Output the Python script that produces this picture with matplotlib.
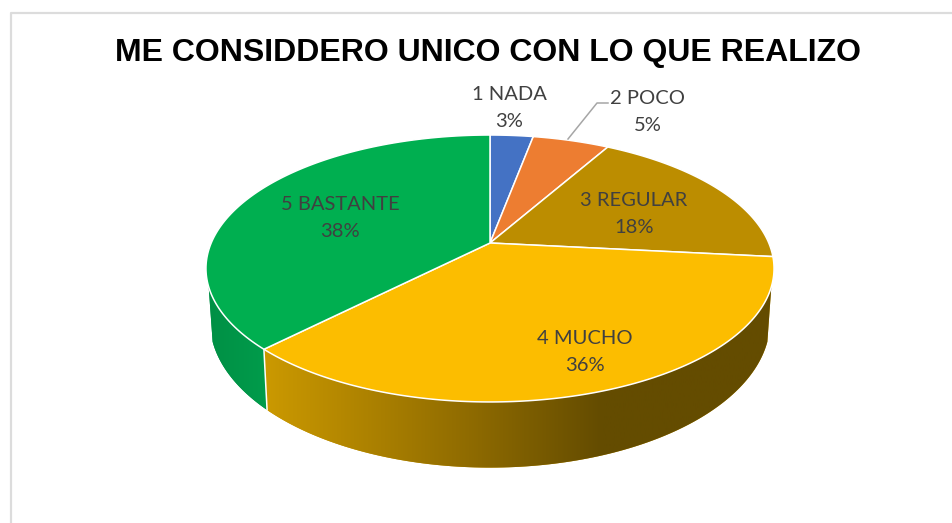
import numpy as np
import matplotlib
matplotlib.use('Agg')
import matplotlib.pyplot as plt
from matplotlib.colors import LinearSegmentedColormap

# datos
categorias = ['1 NADA', '2 POCO', '3 REGULAR', '4 MUCHO', '5 BASTANTE']
valores = [2.95, 5.25, 18.45, 35.7, 37.65]
colores = ['#4472C4', '#ED7D31', '#BC8D00', '#FCBD00', '#00AF50']
titulo = 'ME CONSIDDERO UNICO CON LO QUE REALIZO'

# posicion de las etiquetas en pixeles
pos_etiquetas = [(509, 108), (648, 112), (634, 214), (585, 352), (340, 218)]

# pie en perspectiva, el centro queda por encima del centro de la elipse
CX, CY = 490, 243
RADIO_X, RADIO_Y, K = 278.8, 128.6, 0.191
# cara inferior
CY_BASE, ESC_X, ESC_Y = 293.7, 0.986, 1.094
# donde empieza y termina la pared visible (grados desde arriba)
PARED_INI, PARED_FIN = 108.7, 251.3


def proyectar(grados, base=False):
    t = np.radians(grados)
    u, v = np.sin(t), np.cos(t)
    x = RADIO_X * u / (1 + K * v)
    y = RADIO_Y * v / (1 + K * v)
    if base:
        return CX + ESC_X * x, CY_BASE - ESC_Y * y
    return CX + x, CY - y


def pared(ax, ini, fin, cols, x0, x1):
    th = np.linspace(ini, fin, 120)
    xa, ya = proyectar(th)
    xb, yb = proyectar(th, base=True)
    xs = np.concatenate([xa, xb[::-1]])
    ys = np.concatenate([ya, yb[::-1]])
    poli = ax.fill(xs, ys, color=cols[0][1], lw=0)[0]
    cmap = LinearSegmentedColormap.from_list('p', cols)
    img = ax.imshow(np.linspace(0, 1, 256)[None, :], extent=[x0, x1, 523, 0], cmap=cmap,
                    aspect='auto', zorder=1.5)
    img.set_clip_path(poli)
    return xa, ya, xb, yb


fig = plt.figure(figsize=(9.53, 5.23), dpi=100)
ax = fig.add_axes([0, 0, 1, 1])
ax.set_xlim(0, 953)
ax.set_ylim(523, 0)
ax.axis('off')

# marco del grafico
ax.plot([11.5, 11.5, 953], [523, 12.5, 12.5], color='#DCDCDC', lw=1.6, zorder=1)

acum = np.cumsum([0] + valores) / sum(valores) * 360

# paredes
grad_amarillo = [(0, '#CB9900'), (0.4, '#8F6B00'), (0.66, '#644C00'), (1, '#644C00')]
grad_verde = [(0, '#008F45'), (1, '#009C4B')]
xa, ya, xb, yb = pared(ax, PARED_INI, acum[4], grad_amarillo, 265, 775)
pared(ax, acum[4], PARED_FIN, grad_verde, 205, 268)
ax.plot([xa[-1], xb[-1]], [ya[-1], yb[-1]], color='white', lw=1.1, zorder=2)

# cara superior
for i in range(len(valores)):
    th = np.linspace(acum[i], acum[i + 1], 150)
    x, y = proyectar(th)
    ax.fill(np.r_[CX, x], np.r_[CY, y], facecolor=colores[i], edgecolor='white',
            lw=1.1, joinstyle='round', zorder=3)

# linea guia de 2 POCO
ax.plot([568, 597, 608], [139, 103, 103], color='#A6A6A6', lw=1.1, zorder=4)

ax.text(488, 53, titulo, family='Liberation Sans', fontsize=23, fontweight='bold',
        color='black', ha='center', va='center', zorder=5)

for i in range(len(valores)):
    etiqueta = '%s\n%.0f%%' % (categorias[i], valores[i])
    ax.text(pos_etiquetas[i][0], pos_etiquetas[i][1], etiqueta, family='Lato', fontsize=14.5,
            color='#404040', ha='center', va='center', linespacing=1.65, zorder=5)

fig.savefig('out.png', dpi=100)
